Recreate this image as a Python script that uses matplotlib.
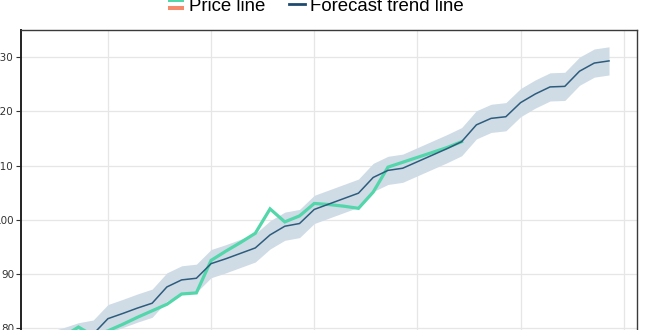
import numpy as np
import matplotlib
matplotlib.use("Agg")
import matplotlib.pyplot as plt
from matplotlib.lines import Line2D
from matplotlib.legend_handler import HandlerBase

# Daily observations (index = day number)
price = [77.0, 78.5, 80.2, 78.6, 79.5, 80.7, 82.0, 83.2, 84.4, 86.3,
         86.5, 92.5, 94.2, 95.8, 97.5, 102.0, 99.6, 100.7, 103.0, 102.8,
         102.5, 102.1, 105.1, 109.7, 110.6, 111.5, 112.4, 113.3, 114.4]

forecast = [76.7, 77.5, 78.4, 78.9, 81.75, 82.7, 83.7, 84.6, 87.6, 88.9,
            89.2, 91.9, 92.8, 93.8, 94.8, 97.2, 98.8, 99.3, 101.9, 102.9,
            103.9, 104.9, 107.8, 109.1, 109.5, 110.7, 111.9, 113.1, 114.4, 117.5,
            118.7, 119.0, 121.6, 123.2, 124.5, 124.6, 127.4, 128.9, 129.3]

band_halfwidth = 2.6
week_ticks = [4, 11, 18, 25, 32, 39]
y_ticks = [80, 90, 100, 110, 120, 130]

legend_labels = ["Price line", "Forecast trend line"]

GREEN = "#52d6aa"
SALMON = "#f4896b"
NAVY = "#2d5c7c"
NAVY_LEG = "#1f4a70"
BAND = "#cfdce6"


class StackedLinesHandler(HandlerBase):
    """Draws a tuple of line handles stacked one above the other."""

    def create_artists(self, legend, orig_handle, xdescent, ydescent,
                       width, height, fontsize, trans):
        artists = []
        n = len(orig_handle)
        gap = 5.9
        for k, h in enumerate(orig_handle):
            y = height / 2 - ydescent + (0.5 * (n - 1) - k) * gap
            ln = Line2D([-xdescent, -xdescent + width], [y, y],
                        color=h.get_color(), lw=h.get_linewidth(),
                        solid_capstyle="butt", transform=trans)
            artists.append(ln)
        return artists


fig = plt.figure(figsize=(6.6, 3.3), dpi=100)
fig.patch.set_facecolor("white")

ax_left, ax_right, ax_top, ax_bottom = 21, 637, 30, 371.5
ax = fig.add_axes([ax_left / 660, (330 - ax_bottom) / 330,
                   (ax_right - ax_left) / 660, (ax_bottom - ax_top) / 330])

x_f = np.arange(len(forecast))
x_p = np.arange(len(price))
fc = np.array(forecast)

ax.fill_between(x_f, fc - band_halfwidth, fc + band_halfwidth,
                color=BAND, lw=0, zorder=2)
ax.plot(x_p, price, color=GREEN, lw=2.3, zorder=3, solid_joinstyle="miter")
ax.plot(x_f, forecast, color=NAVY, lw=1.1, zorder=4)

ax.set_xlim(-1.9, 39.9)
ax.set_ylim(72, 135)
ax.set_xticks(week_ticks)
ax.set_xticklabels([])
ax.set_yticks(y_ticks)
ax.set_yticklabels([str(v) for v in y_ticks], fontsize=7.5, color="#333333",
                   family="DejaVu Sans")
ax.tick_params(axis="y", length=3.5, width=0.8, pad=1.5, color="#333333")
ax.tick_params(axis="x", length=0)
ax.grid(True, color="#e6e6e6", lw=0.9)
ax.set_axisbelow(True)

for side in ["left", "top", "right", "bottom"]:
    ax.spines[side].set_color("#3a3a3a")
    ax.spines[side].set_linewidth(1.0)
ax.spines["left"].set_linewidth(1.4)
ax.spines["left"].set_color("#222222")

price_handle = (Line2D([], [], color=GREEN, lw=2.9),
                Line2D([], [], color=SALMON, lw=2.9))
forecast_handle = Line2D([], [], color=NAVY_LEG, lw=2.0)

fig.legend([price_handle, forecast_handle], legend_labels,
           handler_map={tuple: StackedLinesHandler()},
           loc="center", bbox_to_anchor=(316 / 660, 1 - 6.0 / 330),
           ncol=2, frameon=False,
           prop={"family": "Liberation Sans", "size": 13.4},
           handlelength=0.85, handletextpad=0.27, columnspacing=1.3,
           borderpad=0, borderaxespad=0)

fig.savefig("out.png", dpi=100, facecolor="white")
